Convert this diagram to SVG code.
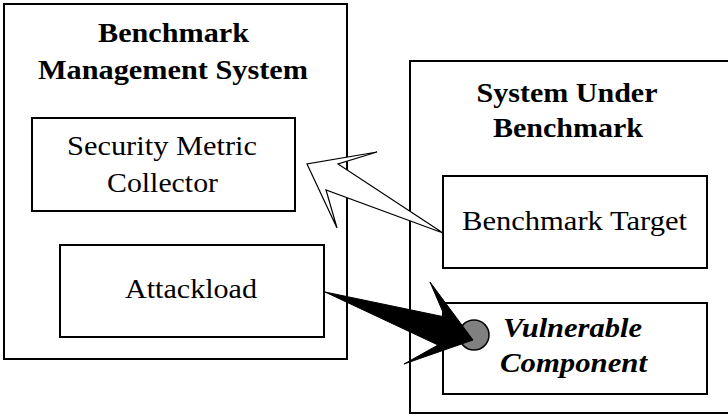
<svg xmlns="http://www.w3.org/2000/svg" width="728" height="415" viewBox="0 0 728 415">
  <style>
    .box { fill: #fff; stroke: #000; stroke-width: 2; }
    text { font-family: 'Liberation Serif', Tinos, 'Times New Roman', Times, serif; font-size: 28px; text-anchor: middle; fill: #000; }
    .title { font-weight: bold; }
    .emph { font-weight: bold; font-style: italic; }
  </style>
  <rect width="728" height="415" fill="#fff"/>

  <!-- Benchmark Management System -->
  <g id="bms">
    <rect class="box" x="4" y="4" width="343" height="355"/>
    <text class="title" x="173.5" y="42" textLength="151" lengthAdjust="spacingAndGlyphs">Benchmark</text>
    <text class="title" x="173" y="79" textLength="270" lengthAdjust="spacingAndGlyphs">Management System</text>
  </g>
  <g id="collector">
    <rect class="box" x="32" y="118" width="263" height="93"/>
    <text x="162" y="155" textLength="190" lengthAdjust="spacingAndGlyphs">Security Metric</text>
    <text x="162.5" y="192" textLength="111" lengthAdjust="spacingAndGlyphs">Collector</text>
  </g>
  <g id="attackload">
    <rect class="box" x="60" y="245" width="264" height="92"/>
    <text x="191" y="298" textLength="132" lengthAdjust="spacingAndGlyphs">Attackload</text>
  </g>

  <!-- System Under Benchmark -->
  <g id="sub">
    <rect class="box" x="410" y="61" width="330" height="352"/>
    <text class="title" x="567" y="102" textLength="181" lengthAdjust="spacingAndGlyphs">System Under</text>
    <text class="title" x="568" y="137" textLength="150" lengthAdjust="spacingAndGlyphs">Benchmark</text>
  </g>
  <g id="target">
    <rect class="box" x="443" y="176" width="264" height="92"/>
    <text x="574.5" y="230" textLength="225" lengthAdjust="spacingAndGlyphs">Benchmark Target</text>
  </g>
  <g id="vulnerable">
    <rect class="box" x="443" y="303" width="264" height="91"/>
    <text class="emph" x="572.5" y="337" textLength="139" lengthAdjust="spacingAndGlyphs">Vulnerable</text>
    <text class="emph" x="573.5" y="372" textLength="147" lengthAdjust="spacingAndGlyphs">Component</text>
    <circle cx="474" cy="335" r="15" fill="#808080" stroke="#000" stroke-width="1.5"/>
  </g>

  <!-- connectors -->
  <g id="connectors">
    <polygon points="443,233 338,164 377,152 307,164 337,228 326,190" fill="#fff" stroke="#000" stroke-width="1.2" stroke-linejoin="miter"/>
    <polygon points="325,292 445,317 430,282 473,340 404,364 438,345" fill="#000" stroke="#000" stroke-width="1"/>
  </g>
</svg>
